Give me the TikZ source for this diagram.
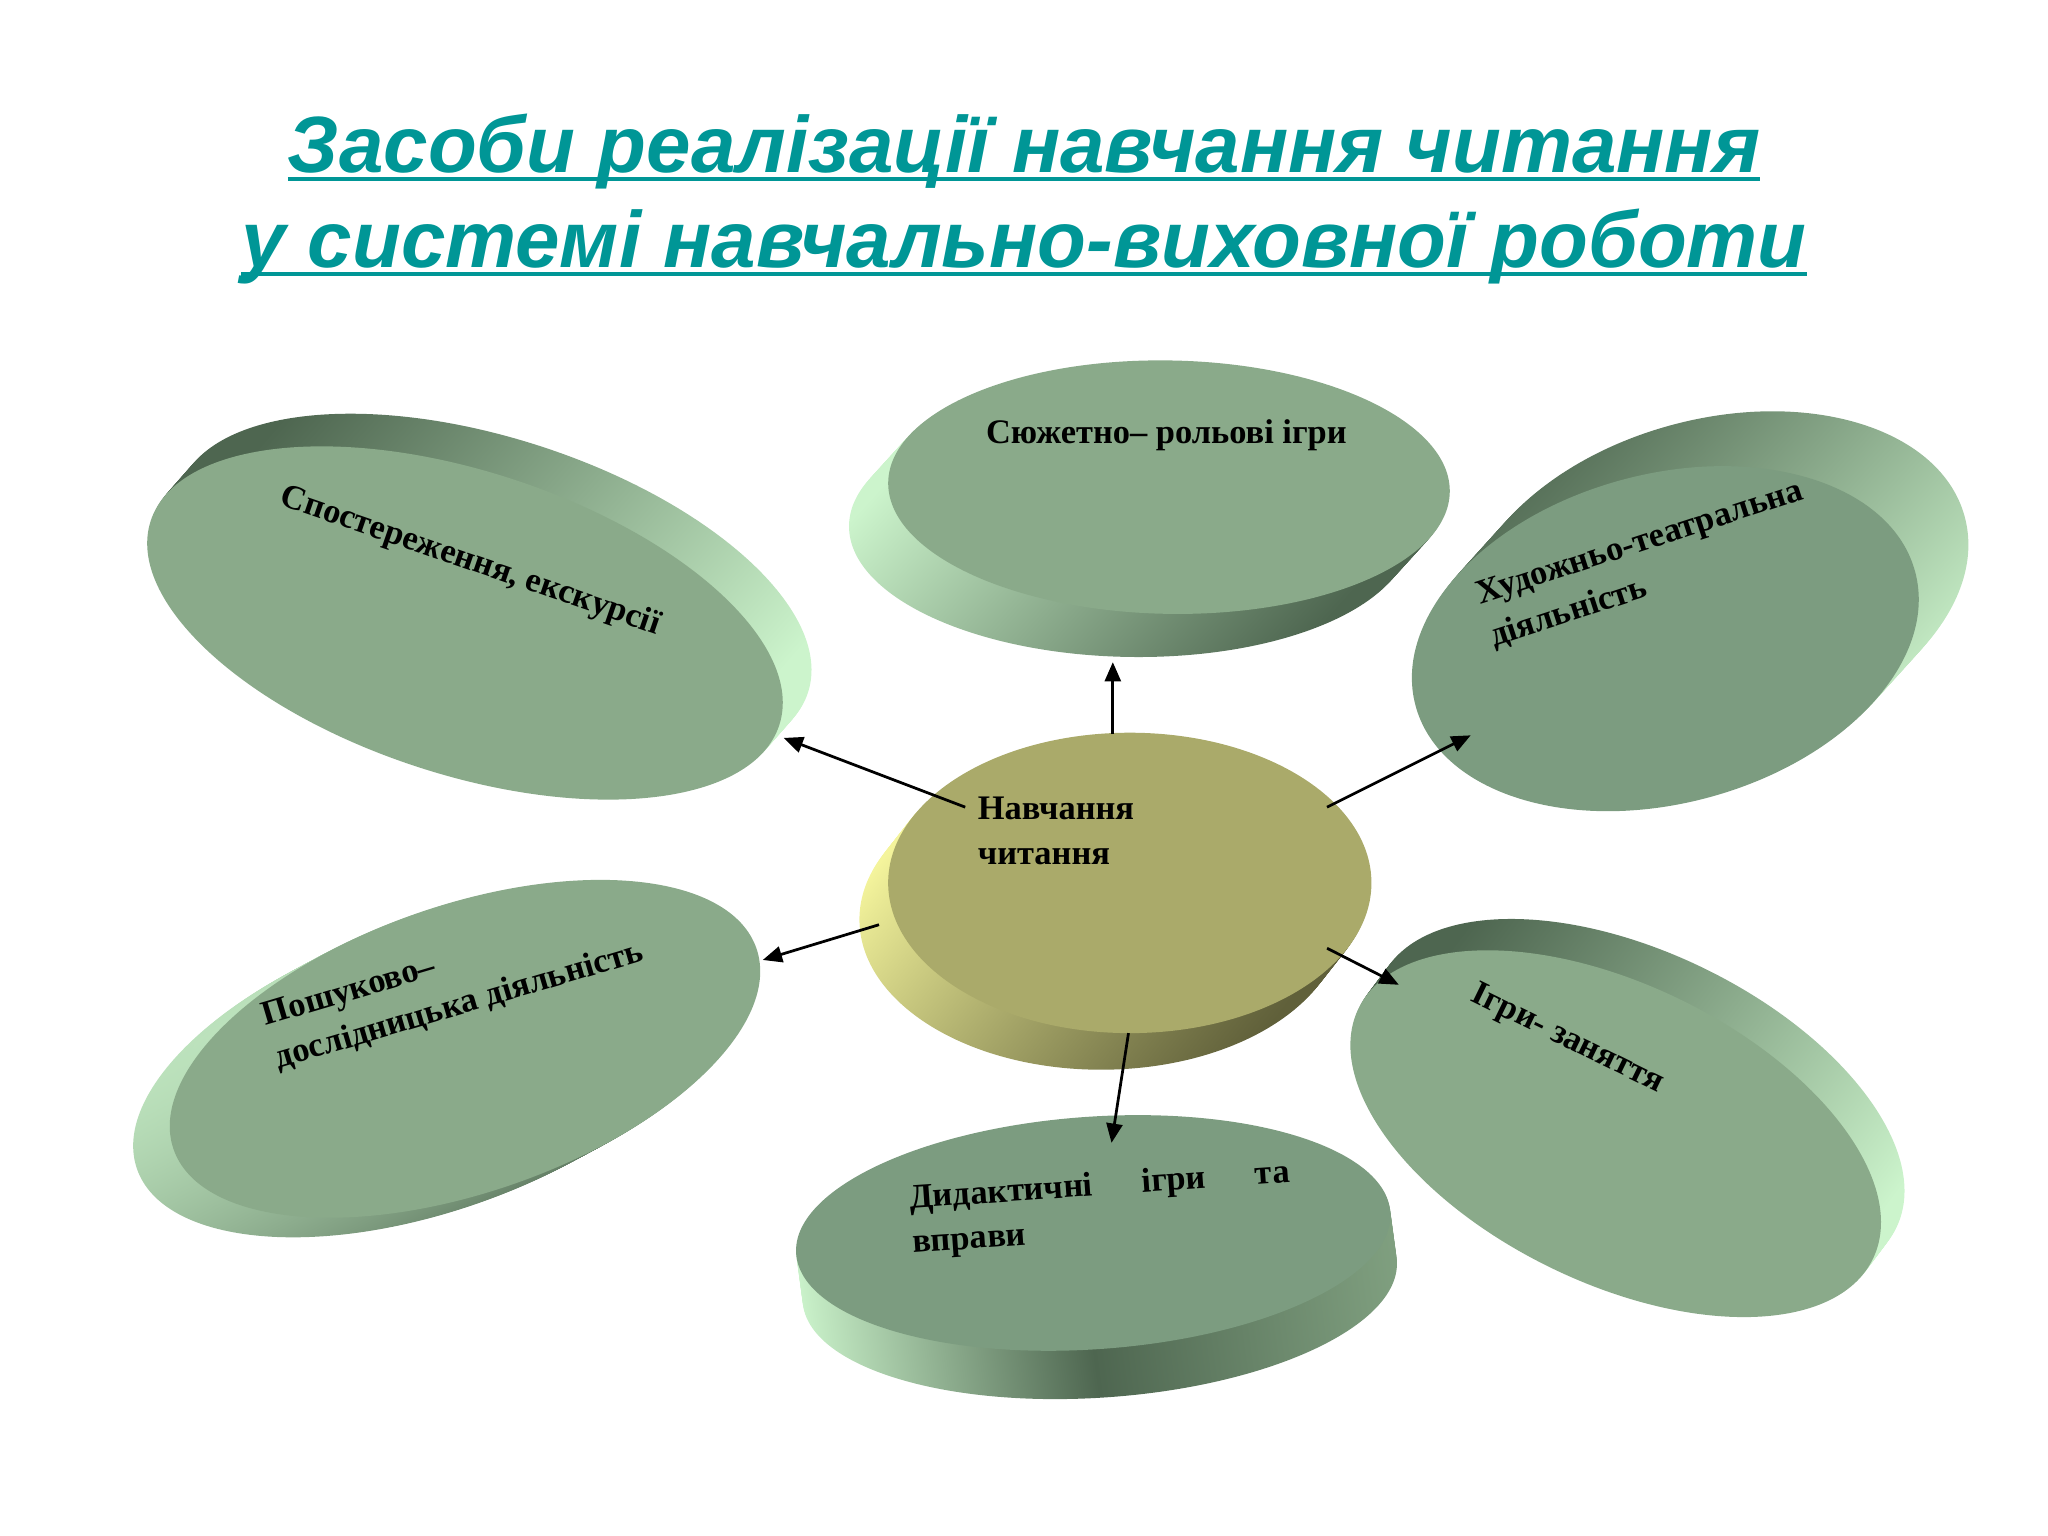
\documentclass[tikz,border=0pt]{standalone}
\usepackage{fontspec}
\setmainfont{Liberation Serif}
\newfontfamily\titlefont{Liberation Sans}
\usetikzlibrary{arrows.meta}
\definecolor{ttlteal}{RGB}{0,150,150}
\definecolor{facegreen}{RGB}{138,170,138}
\definecolor{facedeep}{RGB}{124,156,128}
\definecolor{sidedark}{RGB}{78,102,80}
\definecolor{sidemid}{RGB}{128,160,128}
\definecolor{sidelight}{RGB}{204,244,204}
\definecolor{hubface}{RGB}{170,170,106}
\definecolor{hubdark}{RGB}{96,96,58}
\definecolor{hublight}{RGB}{244,244,156}
\newcommand{\ttlul}[1]{\setbox0\hbox{#1}\rlap{\rule[-1.9pt]{\wd0}{0.95pt}}\box0}

\tikzset{
  lbl/.style={font=\fontsize{7.5}{9.7}\selectfont\bfseries, inner sep=0pt, align=left},
  ttl/.style={font=\titlefont\fontsize{17.4}{20}\selectfont\bfseries\itshape, text=ttlteal, anchor=base, inner sep=0pt},
  conn/.style={-{Triangle[length=4.2pt,width=3.5pt]}, line width=0.6pt},
  backlit/.style={top color=sidedark, bottom color=sidelight, shading angle=45},
  frontlit/.style={top color=sidelight, bottom color=sidedark, shading angle=45},
}

\begin{document}
\begin{tikzpicture}
\useasboundingbox (0,0) rectangle (15.68,11.76);
% Title
\node[ttl] (title1) at (7.84,10.44) {\ttlul{Засоби реалізації навчання читання}};
\node[ttl] (title2) at (7.84,9.71) {\ttlul{у системі навчально-виховної роботи}};
% Observation disc (upper left)
\begin{scope}[shift={(3.56,6.99)}]
  \foreach \k in {20,...,1}
    \shade[backlit, shift={(\k*0.011,\k*0.0125)}, rotate=-18] (0,0) ellipse (2.53 and 1.16);
  \fill[facegreen, rotate=-18] (0,0) ellipse (2.53 and 1.16);
\end{scope}
% Role play disc (top)
\begin{scope}[shift={(8.95,8.03)}]
  \foreach \k in {20,...,1}
    \shade[frontlit, shift={(\k*-0.015,\k*-0.0165)}, rotate=-1] (0,0) ellipse (2.15 and 0.97);
  \fill[facegreen, rotate=-1] (0,0) ellipse (2.15 and 0.97);
\end{scope}
% Theatre disc (upper right)
\begin{scope}[shift={(12.75,6.87)}]
  \foreach \k in {20,...,1}
    \shade[backlit, shift={(\k*0.019,\k*0.021)}, rotate=15] (0,0) ellipse (1.98 and 1.26);
  \fill[facedeep, rotate=15] (0,0) ellipse (1.98 and 1.26);
\end{scope}
% Research disc (lower left)
\begin{scope}[shift={(3.56,3.73)}]
  \foreach \k in {20,...,1}
    \shade[frontlit, shift={(\k*-0.014,\k*-0.0075)}, rotate=19] (0,0) ellipse (2.36 and 1.10);
  \fill[facegreen, rotate=19] (0,0) ellipse (2.36 and 1.10);
\end{scope}
% Didactic disc (bottom)
\begin{scope}[shift={(8.37,2.32)}]
  \foreach \k in {20,...,1}
    \shade[left color=sidelight, right color=sidemid, middle color=sidedark,
           shift={(\k*0.0025,\k*-0.0185)}, rotate=4] (0,0) ellipse (2.28 and 0.89);
  \fill[facedeep, rotate=4] (0,0) ellipse (2.28 and 0.89);
\end{scope}
% Lesson disc (lower right)
\begin{scope}[shift={(12.37,3.08)}]
  \foreach \k in {20,...,1}
    \shade[backlit, shift={(\k*0.009,\k*0.012)}, rotate=-26] (0,0) ellipse (2.19 and 1.14);
  \fill[facegreen, rotate=-26] (0,0) ellipse (2.19 and 1.14);
\end{scope}
% Hub disc (centre)
\begin{scope}[shift={(8.65,5.00)}]
  \foreach \k in {20,...,1}
    \shade[top color=hublight, bottom color=hubdark, shading angle=45,
           shift={(\k*-0.011,\k*-0.014)}] (0,0) ellipse (1.85 and 1.15);
  \fill[hubface] (0,0) ellipse (1.85 and 1.15);
\end{scope}
% Labels
\node[lbl, rotate=-19] (obs) at (3.60,7.46) {Спостереження, екскурсії};
\node[lbl] (plot) at (8.93,8.43) {Сюжетно– рольові ігри};
\node[lbl, rotate=18, anchor=west] (art) at (11.36,7.03) {Художньо-театральна\\діяльність};
\node[lbl, rotate=16.5, anchor=west] (search) at (2.06,3.80) {Пошуково–\\дослідницька діяльність};
\node[lbl, rotate=4, anchor=west] (didact) at (6.97,2.40) {\makebox[83pt][s]{Дидактичні ігри та}\\вправи};
\node[lbl, rotate=-26] (lesson) at (12.00,3.80) {Ігри- заняття};
\node[lbl, anchor=west] (hub) at (7.48,5.40) {Навчання\\читання};
% Connector ends
\coordinate (hub-nw) at (7.39,5.58);
\coordinate (hub-n) at (8.52,6.14);
\coordinate (hub-ne) at (10.16,5.58);
\coordinate (hub-w) at (6.73,4.68);
\coordinate (hub-s) at (8.64,3.85);
\coordinate (hub-se) at (10.16,4.50);
\coordinate (obs-tip) at (6.00,6.11);
\coordinate (plot-tip) at (8.52,6.69);
\coordinate (art-tip) at (11.26,6.13);
\coordinate (search-tip) at (5.84,4.41);
\coordinate (didact-tip) at (8.51,3.01);
\coordinate (lesson-tip) at (10.71,4.22);
% Arrows
\draw[conn] (hub-nw) -- (obs-tip);
\draw[conn] (hub-n) -- (plot-tip);
\draw[conn] (hub-ne) -- (art-tip);
\draw[conn] (hub-w) -- (search-tip);
\draw[conn] (hub-s) -- (didact-tip);
\draw[conn] (hub-se) -- (lesson-tip);
\end{tikzpicture}
\end{document}
